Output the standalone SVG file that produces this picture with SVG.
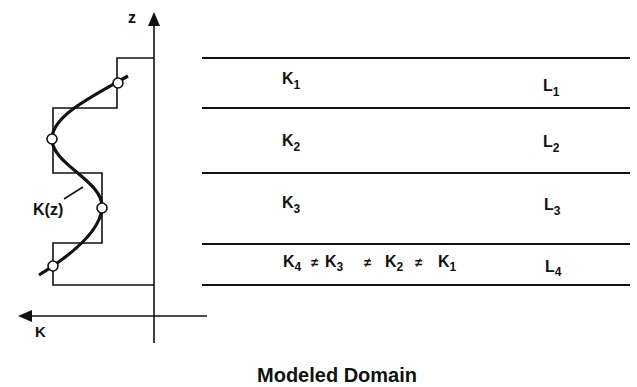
<svg xmlns="http://www.w3.org/2000/svg" width="637" height="387" viewBox="0 0 637 387">
<style>
.ln{stroke:#111;stroke-width:1.6;fill:none}
.lyr{stroke:#111;stroke-width:2;fill:none}
.t{font-family:"Liberation Sans",Arial,sans-serif;font-weight:bold;fill:#111;font-size:16px}
.s{font-size:12px}
.pt{fill:#fff;stroke:#111;stroke-width:1.6}
</style>
<rect width="637" height="387" fill="#fff"/>
<g id="axes">
<line class="ln" x1="154" y1="22" x2="154" y2="343"/>
<polygon points="154,12 148,26 160,26" fill="#111"/>
<text class="t" x="128" y="23">z</text>
<line class="ln" x1="26" y1="316" x2="207" y2="316"/>
<polygon points="18,316 32,310 32,322" fill="#111"/>
<text class="t" x="35" y="337" style="font-size:15px">K</text>
</g>
<g id="profile">
<path class="ln" d="M154,58 H117 V108 H53 V173 H102 V243 H53 V285 H154"/>
<path d="M39,275 C60,262 100,235 102,208 C104,181 52,165 52,139 C52,115 95,95 128,76" fill="none" stroke="#111" stroke-width="3.2"/>
<line class="ln" x1="64" y1="199" x2="83" y2="187"/>
<text class="t" x="33" y="215" style="font-size:16px">K(z)</text>
<circle class="pt" cx="118" cy="83" r="5"/>
<circle class="pt" cx="52" cy="139" r="5"/>
<circle class="pt" cx="102" cy="208" r="5"/>
<circle class="pt" cx="53" cy="266" r="5"/>
</g>
<g id="layers">
<line class="lyr" x1="202" y1="58" x2="630" y2="58"/>
<line class="lyr" x1="202" y1="108" x2="630" y2="108"/>
<line class="lyr" x1="202" y1="173" x2="630" y2="173"/>
<line class="lyr" x1="202" y1="244" x2="630" y2="244"/>
<line class="lyr" x1="202" y1="285" x2="630" y2="285"/>
</g>
<g id="labels">
<text class="t" x="282" y="84">K<tspan class="s" dy="5">1</tspan></text>
<text class="t" x="543" y="91">L<tspan class="s" dy="5">1</tspan></text>
<text class="t" x="282" y="146">K<tspan class="s" dy="5">2</tspan></text>
<text class="t" x="543" y="147">L<tspan class="s" dy="5">2</tspan></text>
<text class="t" x="282" y="208">K<tspan class="s" dy="5">3</tspan></text>
<text class="t" x="544" y="210">L<tspan class="s" dy="5">3</tspan></text>
<text class="t" x="283" y="267">K<tspan class="s" dy="4">4</tspan></text>
<text class="t" x="311" y="267" style="font-size:13px">≠</text>
<text class="t" x="325" y="267">K<tspan class="s" dy="4">3</tspan></text>
<text class="t" x="364" y="267" style="font-size:13px">≠</text>
<text class="t" x="385" y="267">K<tspan class="s" dy="4">2</tspan></text>
<text class="t" x="415" y="267" style="font-size:13px">≠</text>
<text class="t" x="438" y="267">K<tspan class="s" dy="4">1</tspan></text>
<text class="t" x="545" y="272">L<tspan class="s" dy="4">4</tspan></text>
<text class="t" x="257" y="382" style="font-size:20px">Modeled Domain</text>
</g>
</svg>
